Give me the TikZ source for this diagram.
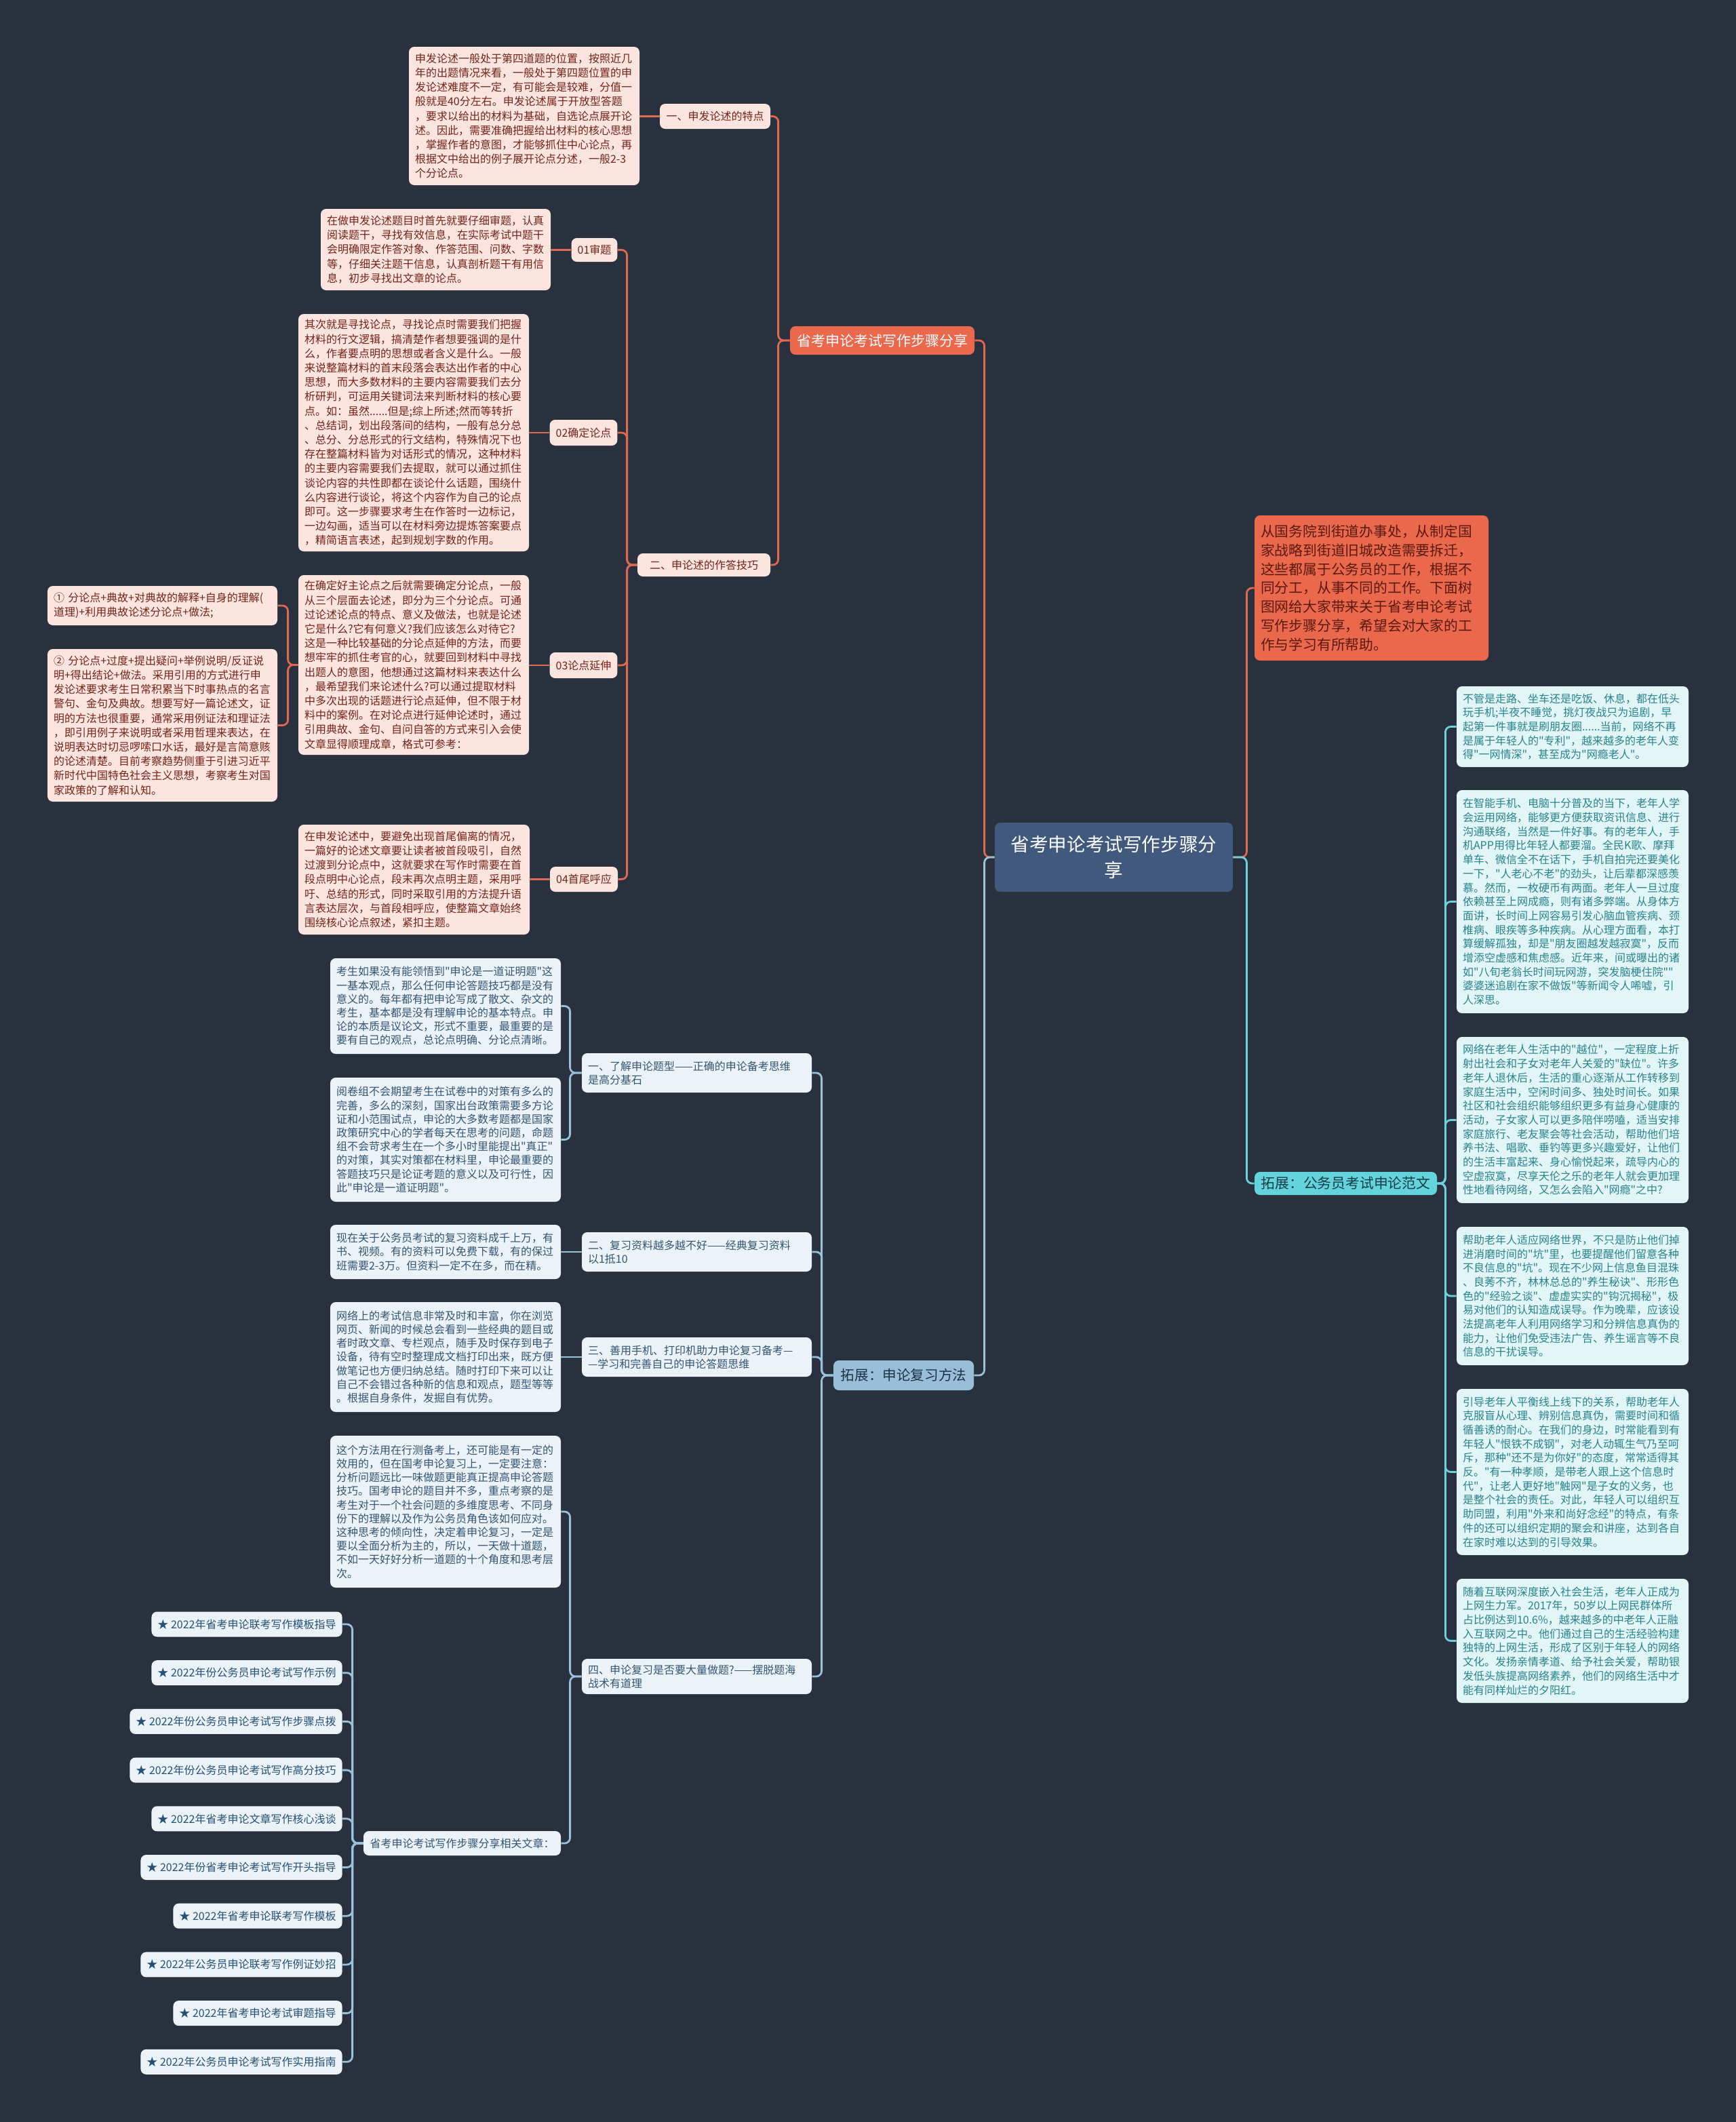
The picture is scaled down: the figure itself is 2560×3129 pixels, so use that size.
\documentclass[tikz,border=0pt]{standalone}
\usepackage{fontspec}
\setmainfont{Noto Sans CJK SC}[Ligatures=TeXOff]
\exhyphenpenalty=10000
\hyphenpenalty=10000
\definecolor{bg}{RGB}{41,48,62}
\definecolor{rootfill}{RGB}{64,89,124}
\definecolor{redline}{RGB}{225,105,82}
\definecolor{brfill}{RGB}{234,104,75}
\definecolor{introtext}{RGB}{90,25,15}
\definecolor{redfill}{RGB}{253,229,223}
\definecolor{redtext}{RGB}{115,35,25}
\definecolor{cyline}{RGB}{110,210,222}
\definecolor{cybfill}{RGB}{100,212,220}
\definecolor{cybtext}{RGB}{20,60,70}
\definecolor{cyfill}{RGB}{226,246,248}
\definecolor{cytext}{RGB}{40,130,140}
\definecolor{blline}{RGB}{155,192,218}
\definecolor{blbfill}{RGB}{152,190,216}
\definecolor{blbtext}{RGB}{30,50,70}
\definecolor{blfill}{RGB}{236,243,248}
\definecolor{bltext}{RGB}{50,85,115}
\definecolor{startext}{RGB}{35,80,115}
\newcommand\sx[7]{%
 \pgfmathsetmacro\mybw{(#4-#2)*0.5}%
 \pgfmathsetmacro\mybh{(#5-#3)*0.5}%
 \pgfmathsetmacro\mycx{(#2+#4)/2}%
 \pgfmathsetmacro\mycy{(#3+#5)/2}%
 \node[#6, minimum width=\mybw pt, minimum height=\mybh pt] (#1) at (\mycx,\mycy) {#7};}
\newcommand\bx[7]{%
 \pgfmathsetmacro\mybw{(#4-#2)*0.5}%
 \pgfmathsetmacro\mytw{(#4-#2)*0.5-9}%
 \pgfmathsetmacro\mybh{(#5-#3)*0.5}%
 \pgfmathsetmacro\mycx{(#2+#4)/2}%
 \pgfmathsetmacro\mycy{(#3+#5)/2}%
 \node[#6, minimum width=\mybw pt, minimum height=\mybh pt, text width=\mytw pt] (#1) at (\mycx,\mycy) {#7};}
\tikzset{
 box/.style={rounded corners=4pt, inner xsep=4.5pt, inner ysep=0pt},
 rootst/.style={box, fill=rootfill, text=white, align=center, font=\fontsize{13.8}{19}\selectfont},
 br1st/.style={box, fill=brfill, text=white, font=\fontsize{10.5}{13}\selectfont},
 introst/.style={box, fill=brfill, text=introtext, align=left, font=\fontsize{10.4}{13.9}\selectfont},
 cybst/.style={box, fill=cybfill, text=cybtext, font=\fontsize{10.4}{13}\selectfont},
 blbst/.style={box, fill=blbfill, text=blbtext, font=\fontsize{10.3}{13}\selectfont},
 redlab/.style={box, fill=redfill, text=redtext, font=\fontsize{8}{10.6}\selectfont},
 redbox/.style={box, fill=redfill, text=redtext, align=left, font=\fontsize{8}{10.6}\selectfont},
 cybox/.style={box, fill=cyfill, text=cytext, align=left, font=\fontsize{8}{10.35}\selectfont},
 bllab/.style={box, fill=blfill, text=bltext, font=\fontsize{8}{10}\selectfont},
 bllabtwo/.style={box, fill=blfill, text=bltext, align=left, font=\fontsize{8}{10}\selectfont},
 blbox/.style={box, fill=blfill, text=bltext, align=left, font=\fontsize{8}{10.1}\selectfont},
 staritem/.style={box, fill=blfill, text=startext, anchor=east, minimum height=18.5pt, font=\fontsize{8}{10}\selectfont},
 conn/.style={line width=1.4pt, rounded corners=4pt},
 rl/.style={conn, draw=redline},
 cl/.style={conn, draw=cyline},
 bl/.style={conn, draw=blline},
}
\begin{document}
\begin{tikzpicture}[x=0.5pt,y=-0.5pt]
\useasboundingbox (0,0) rectangle (2560,3129);
\fill[bg] (0,0) rectangle (2560,3129);

% root and main branches
\bx{root}{1467}{1213}{1818}{1315}{rootst}{省考申论考试写作步骤分\\享}
\sx{br1}{1165}{481}{1437}{523}{br1st}{省考申论考试写作步骤分享}
\bx{intro}{1850}{760}{2195}{974}{introst}{从国务院到街道办事处，从制定国\\家战略到街道旧城改造需要拆迁，\\这些都属于公务员的工作，根据不\\同分工，从事不同的工作。下面树\\图网给大家带来关于省考申论考试\\写作步骤分享，希望会对大家的工\\作与学习有所帮助。}
\sx{cyb}{1850}{1728}{2119}{1762}{cybst}{拓展：公务员考试申论范文}
\sx{blb}{1229}{2006}{1436}{2050}{blbst}{拓展：申论复习方法}

% red subtree
\sx{ra}{973}{153}{1136}{190}{redlab}{一、申发论述的特点}
\bx{rat}{603}{69}{943}{273}{redbox}{申发论述一般处于第四道题的位置，按照近几\\年的出题情况来看，一般处于第四题位置的申\\发论述难度不一定，有可能会是较难，分值一\\般就是40分左右。申发论述属于开放型答题\\，要求以给出的材料为基础，自选论点展开论\\述。因此，需要准确把握给出材料的核心思想\\，掌握作者的意图，才能够抓住中心论点，再\\根据文中给出的例子展开论点分述，一般2-3\\个分论点。}
\sx{rb}{940}{816}{1136}{850}{redlab}{二、申论述的作答技巧}
\sx{r01}{843}{351}{910}{386}{redlab}{01审题}
\bx{r01t}{473}{308}{812}{428}{redbox}{在做申发论述题目时首先就要仔细审题，认真\\阅读题干，寻找有效信息，在实际考试中题干\\会明确限定作答对象、作答范围、问数、字数\\等，仔细关注题干信息，认真剖析题干有用信\\息，初步寻找出文章的论点。}
\sx{r02}{811}{619}{910}{657}{redlab}{02确定论点}
\bx{r02t}{440}{463}{780}{813}{redbox}{其次就是寻找论点，寻找论点时需要我们把握\\材料的行文逻辑，搞清楚作者想要强调的是什\\么，作者要点明的思想或者含义是什么。一般\\来说整篇材料的首末段落会表达出作者的中心\\思想，而大多数材料的主要内容需要我们去分\\析研判，可运用关键词法来判断材料的核心要\\点。如：虽然......但是;综上所述;然而等转折\\、总结词，划出段落间的结构，一般有总分总\\、总分、分总形式的行文结构，特殊情况下也\\存在整篇材料皆为对话形式的情况，这种材料\\的主要内容需要我们去提取，就可以通过抓住\\谈论内容的共性即都在谈论什么话题，围绕什\\么内容进行谈论，将这个内容作为自己的论点\\即可。这一步骤要求考生在作答时一边标记，\\一边勾画，适当可以在材料旁边提炼答案要点\\，精简语言表述，起到规划字数的作用。}
\sx{r03}{811}{962}{910}{1000}{redlab}{03论点延伸}
\bx{r03t}{440}{848}{780}{1113}{redbox}{在确定好主论点之后就需要确定分论点，一般\\从三个层面去论述，即分为三个分论点。可通\\过论述论点的特点、意义及做法，也就是论述\\它是什么?它有何意义?我们应该怎么对待它?\\这是一种比较基础的分论点延伸的方法，而要\\想牢牢的抓住考官的心，就要回到材料中寻找\\出题人的意图，他想通过这篇材料来表达什么\\，最希望我们来论述什么?可以通过提取材料\\中多次出现的话题进行论点延伸，但不限于材\\料中的案例。在对论点进行延伸论述时，通过\\引用典故、金句、自问自答的方式来引入会使\\文章显得顺理成章，格式可参考：}
\bx{r31}{70}{864}{409}{922}{redbox}{①~分论点+典故+对典故的解释+自身的理解(\\道理)+利用典故论述分论点+做法;}
\bx{r32}{70}{957}{409}{1182}{redbox}{②~分论点+过度+提出疑问+举例说明/反证说\\明+得出结论+做法。采用引用的方式进行申\\发论述要求考生日常积累当下时事热点的名言\\警句、金句及典故。想要写好一篇论述文，证\\明的方法也很重要，通常采用例证法和理证法\\，即引用例子来说明或者采用哲理来表达，在\\说明表达时切忌啰嗦口水话，最好是言简意赅\\的论述清楚。目前考察趋势侧重于引进习近平\\新时代中国特色社会主义思想，考察考生对国\\家政策的了解和认知。}
\sx{r04}{811}{1278}{911}{1315}{redlab}{04首尾呼应}
\bx{r04t}{440}{1216}{781}{1378}{redbox}{在申发论述中，要避免出现首尾偏离的情况，\\一篇好的论述文章要让读者被首段吸引，自然\\过渡到分论点中，这就要求在写作时需要在首\\段点明中心论点，段末再次点明主题，采用呼\\吁、总结的形式，同时采取引用的方法提升语\\言表达层次，与首段相呼应，使整篇文章始终\\围绕核心论点叙述，紧扣主题。}

% cyan subtree
\bx{c1}{2148}{1012}{2490}{1131}{cybox}{不管是走路、坐车还是吃饭、休息，都在低头\\玩手机;半夜不睡觉，挑灯夜战只为追剧，早\\起第一件事就是刷朋友圈......当前，网络不再\\是属于年轻人的"专利"，越来越多的老年人变\\得"一网情深"，甚至成为"网瘾老人"。}
\bx{c2}{2148}{1165}{2490}{1494}{cybox}{在智能手机、电脑十分普及的当下，老年人学\\会运用网络，能够更方便获取资讯信息、进行\\沟通联络，当然是一件好事。有的老年人，手\\机APP用得比年轻人都要溜。全民K歌、摩拜\\单车、微信全不在话下，手机自拍完还要美化\\一下，"人老心不老"的劲头，让后辈都深感羡\\慕。然而，一枚硬币有两面。老年人一旦过度\\依赖甚至上网成瘾，则有诸多弊端。从身体方\\面讲，长时间上网容易引发心脑血管疾病、颈\\椎病、眼疾等多种疾病。从心理方面看，本打\\算缓解孤独，却是"朋友圈越发越寂寞"，反而\\增添空虚感和焦虑感。近年来，间或曝出的诸\\如"八旬老翁长时间玩网游，突发脑梗住院""\\婆婆迷追剧在家不做饭"等新闻令人唏嘘，引\\人深思。}
\bx{c3}{2148}{1529}{2490}{1774}{cybox}{网络在老年人生活中的"越位"，一定程度上折\\射出社会和子女对老年人关爱的"缺位"。许多\\老年人退休后，生活的重心逐渐从工作转移到\\家庭生活中，空闲时间多、独处时间长。如果\\社区和社会组织能够组织更多有益身心健康的\\活动，子女家人可以更多陪伴唠嗑，适当安排\\家庭旅行、老友聚会等社会活动，帮助他们培\\养书法、唱歌、垂钓等更多兴趣爱好，让他们\\的生活丰富起来、身心愉悦起来，疏导内心的\\空虚寂寞，尽享天伦之乐的老年人就会更加理\\性地看待网络，又怎么会陷入"网瘾"之中?}
\bx{c4}{2148}{1809}{2490}{2013}{cybox}{帮助老年人适应网络世界，不只是防止他们掉\\进消磨时间的"坑"里，也要提醒他们留意各种\\不良信息的"坑"。现在不少网上信息鱼目混珠\\、良莠不齐，林林总总的"养生秘诀"、形形色\\色的"经验之谈"、虚虚实实的"钩沉揭秘"，极\\易对他们的认知造成误导。作为晚辈，应该设\\法提高老年人利用网络学习和分辨信息真伪的\\能力，让他们免受违法广告、养生谣言等不良\\信息的干扰误导。}
\bx{c5}{2148}{2048}{2490}{2293}{cybox}{引导老年人平衡线上线下的关系，帮助老年人\\克服盲从心理、辨别信息真伪，需要时间和循\\循善诱的耐心。在我们的身边，时常能看到有\\年轻人"恨铁不成钢"，对老人动辄生气乃至呵\\斥，那种"还不是为你好"的态度，常常适得其\\反。"有一种孝顺，是带老人跟上这个信息时\\代"，让老人更好地"触网"是子女的义务，也\\是整个社会的责任。对此，年轻人可以组织互\\助同盟，利用"外来和尚好念经"的特点，有条\\件的还可以组织定期的聚会和讲座，达到各自\\在家时难以达到的引导效果。}
\bx{c6}{2148}{2328}{2490}{2511}{cybox}{随着互联网深度嵌入社会生活，老年人正成为\\上网生力军。2017年，50岁以上网民群体所\\占比例达到10.6\%，越来越多的中老年人正融\\入互联网之中。他们通过自己的生活经验构建\\独特的上网生活，形成了区别于年轻人的网络\\文化。发扬亲情孝道、给予社会关爱，帮助银\\发低头族提高网络素养，他们的网络生活中才\\能有同样灿烂的夕阳红。}

% blue subtree
\bx{b1}{858}{1553}{1197}{1611}{bllabtwo}{一、了解申论题型——正确的申论备考思维\\是高分基石}
\bx{b1a}{487}{1413}{827}{1554}{blbox}{考生如果没有能领悟到"申论是一道证明题"这\\一基本观点，那么任何申论答题技巧都是没有\\意义的。每年都有把申论写成了散文、杂文的\\考生，基本都是没有理解申论的基本特点。申\\论的本质是议论文，形式不重要，最重要的是\\要有自己的观点，总论点明确、分论点清晰。}
\bx{b1b}{487}{1589}{827}{1772}{blbox}{阅卷组不会期望考生在试卷中的对策有多么的\\完善，多么的深刻，国家出台政策需要多方论\\证和小范围试点，申论的大多数考题都是国家\\政策研究中心的学者每天在思考的问题，命题\\组不会苛求考生在一个多小时里能提出"真正"\\的对策，其实对策都在材料里，申论最重要的\\答题技巧只是论证考题的意义以及可行性，因\\此"申论是一道证明题"。}
\bx{b2}{858}{1817}{1197}{1875}{bllabtwo}{二、复习资料越多越不好——经典复习资料\\以1抵10}
\bx{b2t}{487}{1806}{827}{1886}{blbox}{现在关于公务员考试的复习资料成千上万，有\\书、视频。有的资料可以免费下载，有的保过\\班需要2-3万。但资料一定不在多，而在精。}
\bx{b3}{858}{1972}{1197}{2030}{bllabtwo}{三、善用手机、打印机助力申论复习备考—\\—学习和完善自己的申论答题思维}
\bx{b3t}{487}{1920}{827}{2082}{blbox}{网络上的考试信息非常及时和丰富，你在浏览\\网页、新闻的时候总会看到一些经典的题目或\\者时政文章、专栏观点，随手及时保存到电子\\设备，待有空时整理成文档打印出来，既方便\\做笔记也方便归纳总结。随时打印下来可以让\\自己不会错过各种新的信息和观点，题型等等\\。根据自身条件，发掘自有优势。}
\bx{b4}{858}{2446}{1197}{2498}{bllabtwo}{四、申论复习是否要大量做题?——摆脱题海\\战术有道理}
\bx{b4t}{487}{2117}{827}{2341}{blbox}{这个方法用在行测备考上，还可能是有一定的\\效用的，但在国考申论复习上，一定要注意：\\分析问题远比一味做题更能真正提高申论答题\\技巧。国考申论的题目并不多，重点考察的是\\考生对于一个社会问题的多维度思考、不同身\\份下的理解以及作为公务员角色该如何应对。\\这种思考的倾向性，决定着申论复习，一定是\\要以全面分析为主的，所以，一天做十道题，\\不如一天好好分析一道题的十个角度和思考层\\次。}
\sx{rel}{536}{2700}{827}{2736}{bllab}{省考申论考试写作步骤分享相关文章：}

\node[staritem] (s1) at (505,2395) {★ 2022年省考申论联考写作模板指导};
\node[staritem] (s2) at (505,2466.7) {★ 2022年份公务员申论考试写作示例};
\node[staritem] (s3) at (505,2538.4) {★ 2022年份公务员申论考试写作步骤点拨};
\node[staritem] (s4) at (505,2610.1) {★ 2022年份公务员申论考试写作高分技巧};
\node[staritem] (s5) at (505,2681.8) {★ 2022年省考申论文章写作核心浅谈};
\node[staritem] (s6) at (505,2753.5) {★ 2022年份省考申论考试写作开头指导};
\node[staritem] (s7) at (505,2825.2) {★ 2022年省考申论联考写作模板};
\node[staritem] (s8) at (505,2896.9) {★ 2022年公务员申论联考写作例证妙招};
\node[staritem] (s9) at (505,2968.6) {★ 2022年省考申论考试审题指导};
\node[staritem] (s10) at (505,3040.3) {★ 2022年公务员申论考试写作实用指南};

% connectors: root
\draw[rl] (root.west) -- ++(-15,0) |- (br1.east);
\draw[rl] (root.east) -- ++(20,0) |- (intro.west);
\draw[cl] (root.east) -- ++(20,0) |- (cyb.west);
\draw[bl] (root.west) -- ++(-15,0) |- (blb.east);
% red
\draw[rl] (br1.west) -- ++(-17,0) |- (ra.east);
\draw[rl] (br1.west) -- ++(-17,0) |- (rb.east);
\draw[rl] (ra.west) -- (ra.west -| rat.east);
\foreach \c in {r01,r02,r03,r04} \draw[rl] (rb.west) -- ++(-15,0) |- (\c.east);
\foreach \c in {r01,r02,r03,r04} \draw[rl] (\c.west) -- (\c.west -| \c t.east);
\draw[rl] (r03t.west) -- ++(-15,0) |- (r31.east);
\draw[rl] (r03t.west) -- ++(-15,0) |- (r32.east);
% cyan
\foreach \c in {c1,c2,c3,c4,c5,c6} \draw[cl] (cyb.east) -- ++(12,0) |- (\c.west);
% blue
\foreach \c in {b1,b2,b3,b4} \draw[bl] (blb.west) -- ++(-17,0) |- (\c.east);
\draw[bl] (b1.west) -- ++(-17,0) |- (b1a.east);
\draw[bl] (b1.west) -- ++(-17,0) |- (b1b.east);
\draw[bl] (b2.west) -- (b2.west -| b2t.east);
\draw[bl] (b3.west) -- (b3.west -| b3t.east);
\draw[bl] (b4.west) -- ++(-17,0) |- (b4t.east);
\draw[bl] (b4.west) -- ++(-17,0) |- (rel.east);
\foreach \c in {s1,s2,s3,s4,s5,s6,s7,s8,s9,s10} \draw[bl] (rel.west) -- ++(-16,0) |- (\c.east);
\end{tikzpicture}
\end{document}
